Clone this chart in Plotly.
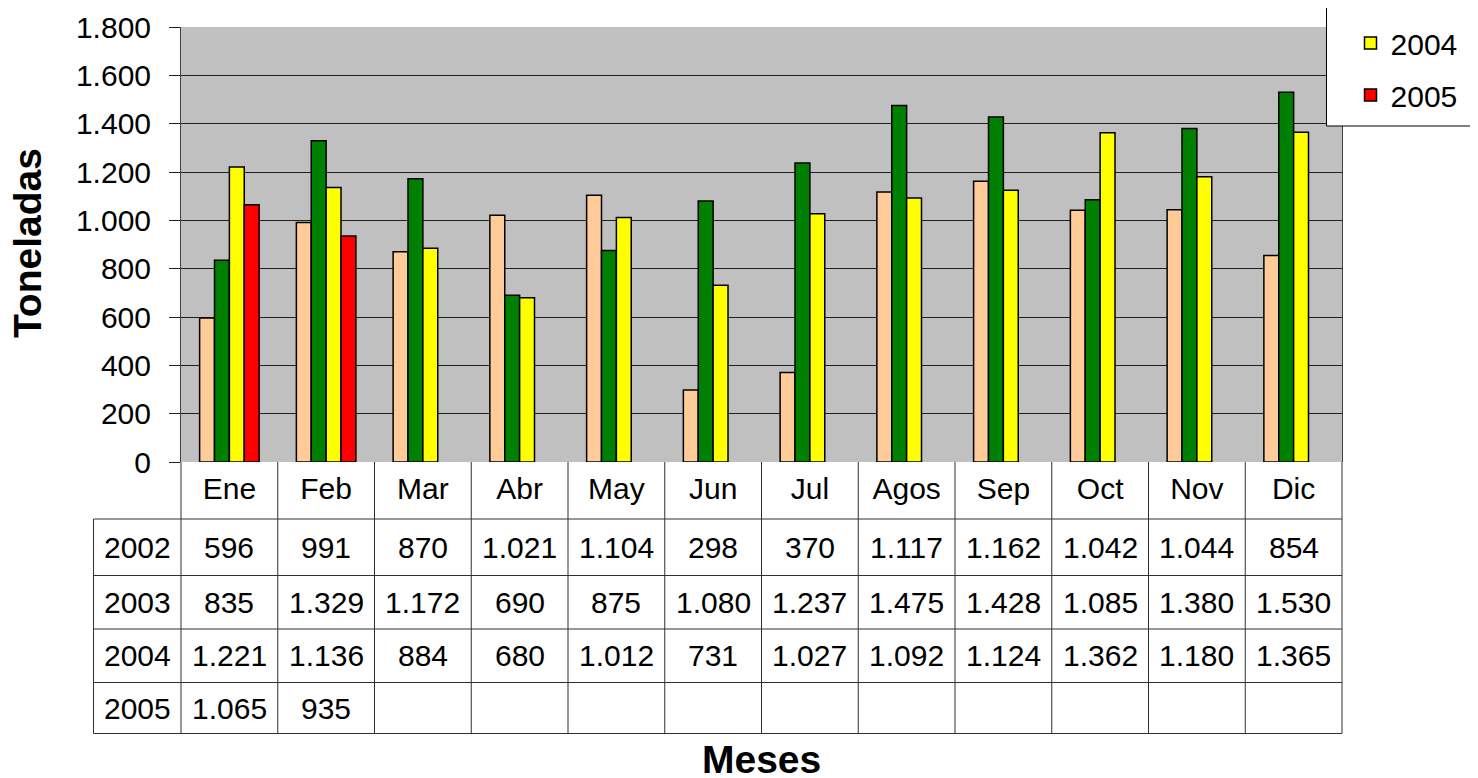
import plotly.graph_objects as go

months = ["Ene", "Feb", "Mar", "Abr", "May", "Jun", "Jul", "Agos", "Sep", "Oct", "Nov", "Dic"]
years = ["2002", "2003", "2004", "2005"]
v2002 = [596, 991, 870, 1021, 1104, 298, 370, 1117, 1162, 1042, 1044, 854]
v2003 = [835, 1329, 1172, 690, 875, 1080, 1237, 1475, 1428, 1085, 1380, 1530]
v2004 = [1221, 1136, 884, 680, 1012, 731, 1027, 1092, 1124, 1362, 1180, 1365]
v2005 = [1065, 935, None, None, None, None, None, None, None, None, None, None]
series = [v2002, v2003, v2004, v2005]
colors = ["#FFCC99", "#008000", "#FFFF00", "#FF0000"]
y_ticks = [0, 200, 400, 600, 800, 1000, 1200, 1400, 1600, 1800]

OFF = 8  # page body margin
W, H = 1470, 770
# screen-pixel layout of the plot area
L, R, T, B = 181, 1342.5, 27, 462
ph = B - T
FONT = "Liberation Sans, Arial, Helvetica, sans-serif"


def py(p):
    return (B - p) / ph


def px(p):
    return (p - L) / (R - L)


def fmt(v):
    return f"{v:,}".replace(",", ".")


fig = go.Figure()
for yr, vals, c in zip(years, series, colors):
    fig.add_trace(go.Bar(
        x=months, y=vals, name=yr, legendgroup=yr,
        marker=dict(color=c, line=dict(color="black", width=1.5)),
    ))

# table geometry (screen pixels)
row_edges = [462, 519, 575.5, 629, 682.5, 733.5]
table_left = 93.5
line_col = "#303030"
shapes = []
n = len(months)
for i in range(n + 1):
    shapes.append(dict(type="line", xref="paper", yref="paper",
                       x0=i / n, x1=i / n, y0=py(row_edges[0]), y1=py(row_edges[-1]),
                       line=dict(color=line_col, width=1)))
shapes.append(dict(type="line", xref="paper", yref="paper",
                   x0=px(table_left), x1=px(table_left), y0=py(row_edges[1]), y1=py(row_edges[-1]),
                   line=dict(color=line_col, width=1)))
for e in row_edges[1:]:
    shapes.append(dict(type="line", xref="paper", yref="paper",
                       x0=px(table_left), x1=1, y0=py(e), y1=py(e),
                       line=dict(color=line_col, width=1)))
# legend box (extends beyond the top/right edges like the original)
shapes.append(dict(type="rect", xref="paper", yref="paper", layer="above",
                   x0=px(1327), x1=px(1500), y0=py(126), y1=py(-30),
                   fillcolor="white", line=dict(color="black", width=1)))

TF = 30
annotations = []
for r, (yr, vals) in enumerate(zip(years, series)):
    yc = py((row_edges[r + 1] + row_edges[r + 2]) / 2)
    annotations.append(dict(x=px((table_left + L) / 2), y=yc, xref="paper", yref="paper",
                            text=yr, showarrow=False, xanchor="center", yanchor="middle",
                            font=dict(size=TF, color="black", family=FONT)))
    for m, v in zip(months, vals):
        if v is None:
            continue
        annotations.append(dict(x=m, y=yc, xref="x", yref="paper", text=fmt(v),
                                showarrow=False, xanchor="center", yanchor="middle",
                                font=dict(size=TF, color="black", family=FONT)))

annotations.append(dict(x=0.5, y=py(759), xref="paper", yref="paper", text="<b>Meses</b>",
                        showarrow=False, xanchor="center", yanchor="middle",
                        font=dict(size=39, color="black", family=FONT)))
annotations.append(dict(x=px(27), y=py(243), xref="paper", yref="paper", text="<b>Toneladas</b>",
                        showarrow=False, xanchor="center", yanchor="middle", textangle=-90,
                        font=dict(size=39, color="black", family=FONT)))

fig.update_layout(
    width=W, height=H,
    margin=dict(l=L - OFF, r=W - (R - OFF), t=T - OFF, b=H - (B - OFF), autoexpand=False, pad=0),
    paper_bgcolor="white", plot_bgcolor="#C0C0C0",
    barmode="group", bargap=0.385, bargroupgap=0,
    separators=",.",
    font=dict(family=FONT, size=TF, color="black"),
    showlegend=True,
    legend=dict(x=px(1327), xanchor="left", y=py(121), yanchor="bottom",
                bgcolor="rgba(0,0,0,0)", borderwidth=0,
                font=dict(size=TF, family=FONT, color="black"),
                tracegroupgap=10, traceorder="grouped", indentation=24),
    shapes=shapes, annotations=annotations,
)
fig.update_xaxes(type="category", showgrid=False, ticks="", showline=False,
                 tickfont=dict(size=TF, family=FONT, color="black"),
                 ticklabelstandoff=6, zeroline=False, fixedrange=True)
fig.update_yaxes(range=[0, 1800], tickvals=y_ticks, tickformat=",d",
                 showgrid=True, gridcolor="#202020", gridwidth=1,
                 showline=True, linecolor="#404040", linewidth=1, mirror=True,
                 ticks="outside", ticklen=11, tickcolor="#202020",
                 tickfont=dict(size=TF, family=FONT, color="black"),
                 ticklabelstandoff=12, zeroline=False, fixedrange=True)

fig.write_html("out.html")
